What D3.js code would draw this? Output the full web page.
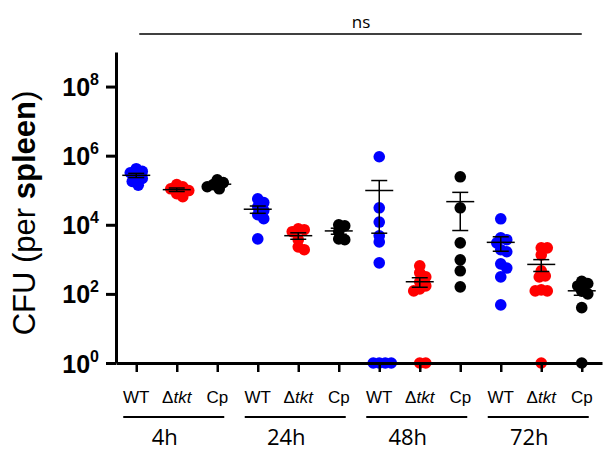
<!DOCTYPE html>
<html>
<head>
<meta charset="utf-8">
<script src="https://cdn.jsdelivr.net/npm/d3@7"></script>
<style>
  body { margin: 0; background: #fff; }
  svg { display: block; }
</style>
</head>
<body>
<div id="chart"></div>
<script>
// time points and strains on the x axis
var timepoints = ["4h", "24h", "48h", "72h"];
var strains = ["WT", "Δtkt", "Cp"];
var strainColors = ["#0000ff", "#ff0000", "#000000"];

// CFU per spleen, one array per time point (0 = below detection, drawn on the axis)
var wtCFU = [
  [4.2e5, 3.5e5, 3.2e5, 2.6e5, 2.2e5, 1.8e5, 1.4e5],
  [5.6e4, 4.4e4, 3.3e4, 2.6e4, 1.95e4, 1.5e4, 3.9e3],
  [9.3e5, 3.1e4, 1.2e4, 4.8e3, 3.2e3, 790, 0, 0, 0, 0],
  [1.49e4, 4.2e3, 3.7e3, 3.0e3, 1.9e3, 1.66e3, 740, 560, 310, 48]
];
var tktCFU = [
  [1.45e5, 1.26e5, 1.1e5, 9.8e4, 7.9e4, 6.5e4],
  [7.6e3, 7.2e3, 6.3e3, 3.7e3, 2.3e3, 1.9e3],
  [650, 407, 310, 224, 170, 139, 122, 0, 0],
  [2150, 2150, 1350, 465, 330, 310, 131, 122, 122, 0]
];
var cpCFU = [
  [2.0e5, 1.66e5, 1.45e5, 1.26e5, 1.1e5],
  [1.0e4, 9.3e3, 6.3e3, 3.9e3, 3.7e3],
  [2.45e5, 3.1e4, 3.0e3, 970, 465, 160],
  [230, 200, 170, 120, 100, 40, 0]
];
var yTickExp = [0, 2, 4, 6, 8];

var width = 606, height = 462;
var margin = {top: 52, left: 116, right: 4, bottom: 99};

var svg = d3.select("#chart").append("svg")
    .attr("width", width)
    .attr("height", height);

// soft edges on the dots, like the scanned figure
svg.append("defs").append("filter")
    .attr("id", "soft")
  .append("feGaussianBlur")
    .attr("stdDeviation", 0.6);

var cats = [];
timepoints.forEach(function(t) {
  strains.forEach(function(s) { cats.push(t + "|" + s); });
});

var x = d3.scalePoint()
    .domain(cats)
    .range([margin.left, width - margin.right])
    .padding(0.5);

var y = d3.scaleLog()
    .domain([1, 1e9])
    .range([height - margin.bottom, margin.top]);

var allSets = [wtCFU, tktCFU, cpCFU];

// simple beeswarm so overlapping points spread sideways
function swarm(vals, cx) {
  var minDist = 6, step = 2;
  var placed = [];
  vals.slice().sort(function(a, b) { return b - a; }).forEach(function(v) {
    var py = y(Math.max(v, 1));
    for (var k = 0; k < 40; k++) {
      var off = k == 0 ? 0 : (k % 2 ? 1 : -1) * Math.ceil(k / 2) * step;
      var px = cx + off;
      var ok = placed.every(function(p) {
        return Math.hypot(p.x - px, p.y - py) >= minDist;
      });
      if (ok) { placed.push({x: px, y: py}); break; }
    }
  });
  return placed;
}

var plot = svg.append("g");
var bars = [];

timepoints.forEach(function(t, ti) {
  strains.forEach(function(s, si) {
    var vals = allSets[si][ti];
    var cx = x(t + "|" + s);
    var pts = swarm(vals, cx);

    plot.append("g")
        .attr("filter", "url(#soft)")
      .selectAll("circle")
      .data(pts)
      .enter().append("circle")
        .attr("cx", function(d) { return d.x; })
        .attr("cy", function(d) { return d.y; })
        .attr("r", 5.8)
        .attr("fill", strainColors[si]);

    var mean = d3.mean(vals);
    var sem = d3.deviation(vals) / Math.sqrt(vals.length);
    bars.push({cx: cx, mean: mean, lo: Math.max(mean - sem, 1), hi: mean + sem});
  });
});

// Y axis
var yAxis = svg.append("g")
    .attr("transform", "translate(" + margin.left + ",0)")
    .call(d3.axisLeft(y)
      .tickValues(yTickExp.map(function(e) { return Math.pow(10, e); }))
      .tickSize(10)
      .tickSizeOuter(0)
      .tickFormat(""));

yAxis.select(".domain").attr("stroke-width", 3);
yAxis.selectAll(".tick line").attr("stroke-width", 3);
yAxis.selectAll(".tick text").remove();

yAxis.selectAll(".tick").each(function(d) {
  var txt = d3.select(this).append("text")
      .attr("x", -17)
      .attr("y", 9)
      .attr("fill", "#000")
      .attr("text-anchor", "end")
      .attr("font-family", "'Liberation Sans', Arial, sans-serif")
      .attr("font-weight", "bold")
      .attr("font-size", 25);
  txt.append("tspan").text("10");
  txt.append("tspan")
      .attr("dy", -11)
      .attr("font-size", 16)
      .text(Math.round(Math.log10(d)));
});

// X axis
var xAxis = svg.append("g")
    .attr("transform", "translate(0," + (height - margin.bottom) + ")")
    .call(d3.axisBottom(x)
      .tickSize(9)
      .tickSizeOuter(0)
      .tickFormat(""));

xAxis.select(".domain").attr("stroke-width", 3);
xAxis.selectAll(".tick line").attr("stroke-width", 2.5);
xAxis.selectAll(".tick text").remove();

// mean and SEM bars
var eb = svg.append("g")
    .attr("stroke", "#000")
    .attr("stroke-width", 1.5);

bars.forEach(function(b) {
  eb.append("line")
      .attr("x1", b.cx).attr("x2", b.cx)
      .attr("y1", y(b.lo)).attr("y2", y(b.hi));
  eb.append("line")
      .attr("x1", b.cx - 14).attr("x2", b.cx + 14)
      .attr("y1", y(b.mean)).attr("y2", y(b.mean));
  [b.lo, b.hi].forEach(function(v) {
    eb.append("line")
        .attr("x1", b.cx - 8).attr("x2", b.cx + 8)
        .attr("y1", y(v)).attr("y2", y(v));
  });
});

// strain labels
var labels = svg.append("g")
    .attr("font-family", "'Liberation Sans', Arial, sans-serif")
    .attr("font-size", 17)
    .attr("text-anchor", "middle");

cats.forEach(function(c) {
  var s = c.split("|")[1];
  var t = labels.append("text")
      .attr("x", x(c))
      .attr("y", 403);
  if (s == "Δtkt") {
    t.append("tspan").text("Δ");
    t.append("tspan").attr("font-style", "italic").text("tkt");
  } else {
    t.text(s);
  }
});

// time point brackets
timepoints.forEach(function(t) {
  var x0 = x(t + "|" + strains[0]);
  var x1 = x(t + "|" + strains[2]);
  var xm = x(t + "|" + strains[1]);
  svg.append("line")
      .attr("x1", x0 - 13).attr("x2", x1 + 7)
      .attr("y1", 417).attr("y2", 417)
      .attr("stroke", "#000")
      .attr("stroke-width", 2);
  svg.append("text")
      .attr("x", xm - 12)
      .attr("y", 445)
      .attr("text-anchor", "middle")
      .attr("font-family", "'Open Sans', sans-serif")
      .attr("font-size", 22)
      .text(t);
});

// ns bracket across all groups
svg.append("line")
    .attr("x1", x(cats[0]) + 3).attr("x2", x(cats[cats.length - 1]))
    .attr("y1", 34).attr("y2", 34)
    .attr("stroke", "#000")
    .attr("stroke-width", 1.5);
svg.append("text")
    .attr("x", 361)
    .attr("y", 28)
    .attr("text-anchor", "middle")
    .attr("font-family", "'Open Sans', sans-serif")
    .attr("font-size", 17)
    .text("ns");

// Y title
var yt = svg.append("text")
    .attr("transform", "translate(35,213) rotate(-90)")
    .attr("text-anchor", "middle")
    .attr("font-family", "'Liberation Sans', Arial, sans-serif")
    .attr("font-size", 31);
yt.append("tspan").text("CFU (per ");
yt.append("tspan").attr("font-weight", "bold").text("spleen");
yt.append("tspan").text(")");
</script>
</body>
</html>
